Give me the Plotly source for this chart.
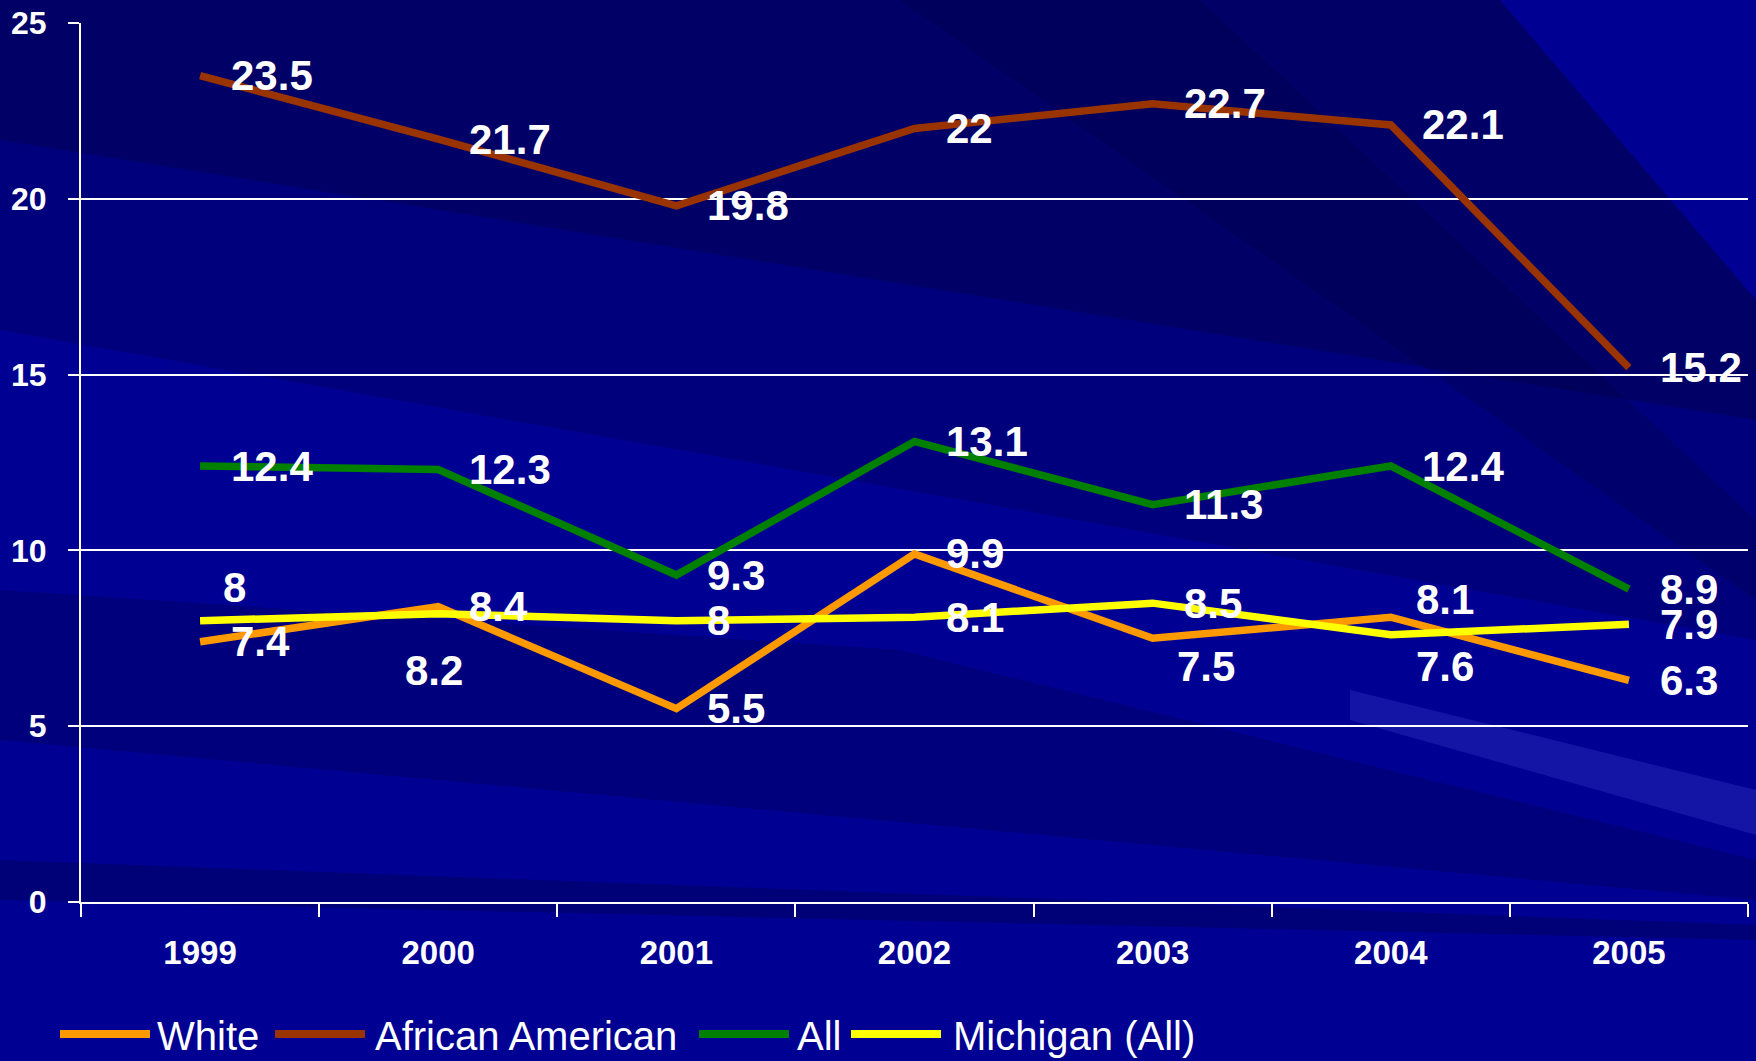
import plotly.graph_objects as go

W, H = 1756, 1061

years = ["1999", "2000", "2001", "2002", "2003", "2004", "2005"]
white = [7.4, 8.4, 5.5, 9.9, 7.5, 8.1, 6.3]
african_american = [23.5, 21.7, 19.8, 22, 22.7, 22.1, 15.2]
all_races = [12.4, 12.3, 9.3, 13.1, 11.3, 12.4, 8.9]
michigan = [8, 8.2, 8, 8.1, 8.5, 7.6, 7.9]

series_names = ["White", "African American", "All", "Michigan (All)"]
series_values = [white, african_american, all_races, michigan]
series_colors = ["#FF9900", "#993300", "#008000", "#FFFF00"]

FONT = "Arial, Liberation Sans, sans-serif"

# label offsets in pixels (dx to left edge of label, dy downwards), default right of point
label_moves = {
    ("Michigan (All)", 0): (21, -33),
    ("Michigan (All)", 1): (-35, 57),
    ("White", 4): (22, 28),
    ("White", 5): (23, -18),
    ("Michigan (All)", 5): (23, 32),
}


def px(x, y):
    return x / W, 1 - y / H


fig = go.Figure()

for name, vals, col in zip(series_names, series_values, series_colors):
    fig.add_trace(go.Scatter(
        x=years, y=vals, mode="lines", name=name,
        line=dict(color=col, width=7.5),
        showlegend=False,
    ))

annotations = []
for name, vals in zip(series_names, series_values):
    for i, v in enumerate(vals):
        dx, dy = label_moves.get((name, i), (29, 0))
        # category axis: annotation x is the category index
        annotations.append(dict(
            x=i, y=v, xref="x", yref="y",
            text=f"{v:g}", showarrow=False,
            xanchor="left", yanchor="middle",
            xshift=dx, yshift=-dy,
            font=dict(family=FONT, size=42, color="white", weight="bold"),
        ))

# legend drawn by hand so the key lines are long like the original
legend_x = [(60, 155), (275, 373), (699, 795), (851, 951)]
shapes = []
for (lx, tx), name, col in zip(legend_x, series_names, series_colors):
    x0, y0 = px(lx, 1034)
    x1, _ = px(lx + 90, 1034)
    shapes.append(dict(type="line", xref="paper", yref="paper",
                       x0=x0, x1=x1, y0=y0, y1=y0,
                       line=dict(color=col, width=8)))
    ax, ay = px(tx, 1036)
    annotations.append(dict(
        x=ax, y=ay, xref="paper", yref="paper", text=name, showarrow=False,
        xanchor="left", yanchor="middle",
        font=dict(family=FONT, size=40, color="white"),
    ))

# background streaks
bands = [
    ([(0, 0), (1500, 0), (1756, 300), (1756, 420), (0, 140)], "rgba(0,0,45,0.42)"),
    ([(0, 140), (1756, 420), (1756, 640), (0, 330)], "rgba(0,0,45,0.22)"),
    ([(900, 0), (1200, 0), (1756, 520), (1756, 600)], "rgba(0,0,45,0.18)"),
    ([(0, 590), (900, 650), (1756, 860), (1756, 900), (0, 740)], "rgba(0,0,45,0.22)"),
    ([(1350, 690), (1756, 790), (1756, 835), (1350, 720)], "rgba(90,90,230,0.22)"),
    ([(0, 860), (1756, 925), (1756, 940), (0, 900)], "rgba(0,0,40,0.25)"),
]
for pts, fill in bands:
    path = "M " + " L ".join(f"{px(x, y)[0]:.4f},{px(x, y)[1]:.4f}" for x, y in pts) + " Z"
    shapes.append(dict(type="path", xref="paper", yref="paper", path=path,
                       fillcolor=fill, line=dict(width=0), layer="below"))

fig.update_layout(
    width=W, height=H,
    margin=dict(l=0, r=0, t=0, b=0),
    paper_bgcolor="#000092",
    plot_bgcolor="rgba(0,0,0,0)",
    font=dict(family=FONT, color="white"),
    shapes=shapes,
    annotations=annotations,
    xaxis=dict(
        domain=[81 / W, 1748 / W],
        type="category", range=[-0.5, 6.5],
        tickson="boundaries", ticks="outside", ticklen=13, tickwidth=2,
        tickcolor="white", showline=True, linecolor="white", linewidth=2,
        showgrid=False, automargin=False, ticklabelstandoff=20,
        tickfont=dict(family=FONT, size=33, color="white", weight="bold"),
    ),
    yaxis=dict(
        domain=[1 - 902 / H, 1 - 23 / H],
        range=[0, 25], tickvals=[0, 5, 10, 15, 20, 25],
        ticks="outside", ticklen=11, tickwidth=2, tickcolor="white",
        showline=True, linecolor="white", linewidth=2,
        showgrid=True, gridcolor="white", gridwidth=2, zeroline=False,
        automargin=False, ticklabelstandoff=15,
        tickfont=dict(family=FONT, size=32, color="white", weight="bold"),
    ),
)

fig.write_html("out.html", config={"displayModeBar": False},
               post_script="document.body.style.margin='0';")
